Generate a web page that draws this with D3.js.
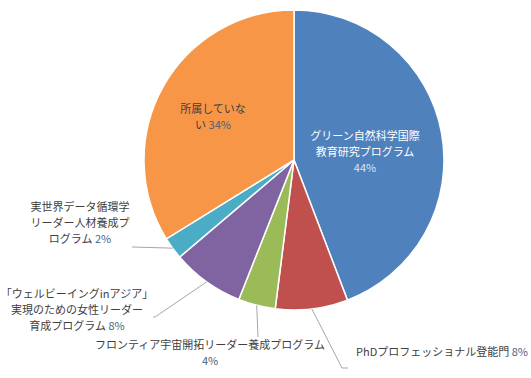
<!DOCTYPE html>
<head>
    <meta charset='utf-8'>
    <title>Program pie</title>
    <script src='https://d3js.org/d3.v7.min.js'></script>
    <style>
        html, body {
            margin: 0px;
            padding: 0px;
            background: white;
        }
        svg text {
            font-family: 'Noto Sans CJK JP', 'Noto Sans', sans-serif;
            font-size: 11px;
            fill: #404040;
        }
    </style>
</head>
<body>
    <svg id='chart' width='531' height='378'></svg>

    <script>
        // categories, clockwise from 12 o'clock
        var categories = [
            ['グリーン自然科学国際', '教育研究プログラム'],
            ['PhDプロフェッショナル登能門'],
            ['フロンティア宇宙開拓リーダー養成プログラム'],
            ['「ウェルビーイングinアジア」', '実現のための女性リーダー', '育成プログラム'],
            ['実世界データ循環学', 'リーダー人材養成プ', 'ログラム'],
            ['所属していな', 'い']
        ];
        var shares = [44.2, 7.8, 4.0, 7.8, 2.4, 33.8];
        var colors = ['#4F81BD', '#C0504D', '#9BBB59', '#8064A2', '#4BACC6', '#F79646'];

        // label placement (layout only)
        var layout = [
            {x: 365, y: 135, anchor: 'middle', pctLine: true, inside: true, fill: '#ffffff', pctFill: '#dce6f2'},
            {x: 356, y: 351, anchor: 'start', pctLine: false, leader: [[342, 368], [348, 368]]},
            {x: 210, y: 344, anchor: 'middle', pctLine: true, leader: [[258, 337]]},
            {x: 77, y: 293, anchor: 'middle', pctLine: false, leader: [[155, 317], [153, 317]]},
            {x: 80, y: 206, anchor: 'middle', pctLine: false, leader: [[132, 247]]},
            {x: 213, y: 108, anchor: 'middle', pctLine: false, inside: true}
        ];

        var cx = 294, cy = 160, radius = 150, lineH = 16;
        var total = d3.sum(shares);

        var svg = d3.select('#chart');
        var g = svg.append('g').attr('transform', 'translate(' + cx + ',' + cy + ')');

        var pie = d3.pie().sort(null).value(function(d) { return d; });
        var arc = d3.arc().innerRadius(0).outerRadius(radius);
        var arcs = pie(shares);

        g.selectAll('path')
            .data(arcs)
            .enter()
            .append('path')
            .attr('d', arc)
            .attr('fill', function(d, i) { return colors[i]; })
            .attr('stroke', 'white')
            .attr('stroke-width', 1.5);

        // leader lines start at outer edge, mid angle
        arcs.forEach(function(d, i) {
            var L = layout[i];
            if (!L.leader) return;
            var a = (d.startAngle + d.endAngle) / 2;
            var pts = [[cx + radius * Math.sin(a), cy - radius * Math.cos(a)]].concat(L.leader);
            svg.append('path')
                .attr('d', d3.line()(pts))
                .attr('fill', 'none')
                .attr('stroke', '#a6a6a6')
                .attr('stroke-width', 1);
        });

        arcs.forEach(function(d, i) {
            var L = layout[i];
            var pct = Math.round(shares[i] / total * 100) + '%';
            var lines = categories[i].slice();
            var t = svg.append('text')
                .attr('text-anchor', L.anchor)
                .attr('dominant-baseline', 'central');
            if (L.fill) t.style('fill', L.fill);

            lines.forEach(function(s, k) {
                var ts = t.append('tspan')
                    .attr('x', L.x)
                    .attr('y', L.y + k * lineH)
                    .text(s);
                if (k == lines.length - 1 && !L.pctLine) {
                    t.append('tspan')
                        .text(' ' + pct)
                        .style('fill', L.pctFill || '#4a5f7e');
                }
            });
            if (L.pctLine) {
                t.append('tspan')
                    .attr('x', L.x)
                    .attr('y', L.y + lines.length * lineH)
                    .text(pct)
                    .style('fill', L.pctFill || '#4a5f7e');
            }
        });
    </script>
</body>
